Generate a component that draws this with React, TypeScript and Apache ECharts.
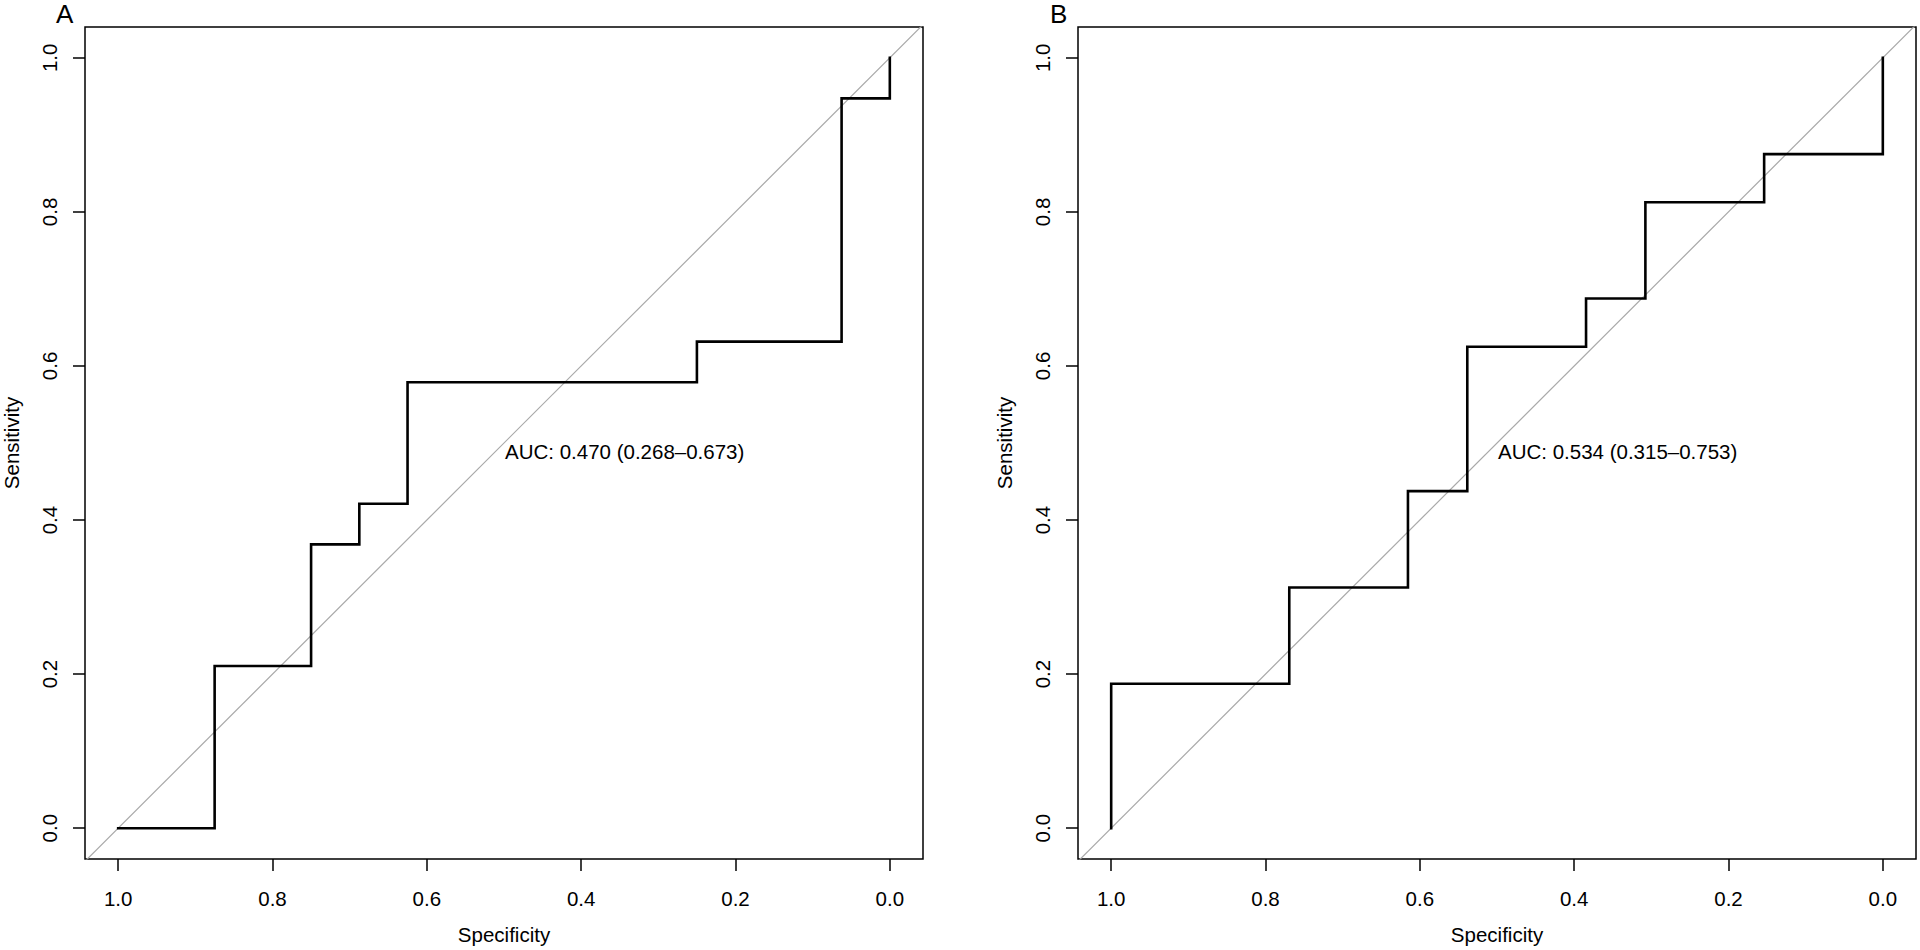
import React, { useEffect, useRef } from "react";
import * as echarts from "echarts";

// Panel A ROC corner points (specificity, sensitivity)
const specA = [1, 0.875, 0.875, 0.75, 0.75, 0.6875, 0.6875, 0.625, 0.625, 0.25, 0.25, 0.0625, 0.0625, 0, 0];
const sensA = [0, 0, 0.2105, 0.2105, 0.3684, 0.3684, 0.4211, 0.4211, 0.5789, 0.5789, 0.6316, 0.6316, 0.9474, 0.9474, 1];

// Panel B ROC corner points
const specB = [1, 1, 0.7692, 0.7692, 0.6154, 0.6154, 0.5385, 0.5385, 0.3846, 0.3846, 0.3077, 0.3077, 0.1538, 0.1538, 0, 0];
const sensB = [0, 0.1875, 0.1875, 0.3125, 0.3125, 0.4375, 0.4375, 0.625, 0.625, 0.6875, 0.6875, 0.8125, 0.8125, 0.875, 0.875, 1];

const tickValues = [0, 0.2, 0.4, 0.6, 0.8, 1.0];
const panelLabels = ["A", "B"];
const aucTexts = ["AUC: 0.470 (0.268\u20130.673)", "AUC: 0.534 (0.315\u20130.753)"];
const xName = "Specificity";
const yName = "Sensitivity";

const FONT = "'Liberation Sans', Arial, Helvetica, sans-serif";
const FS = 20.5;

export default function App() {
  const ref = useRef<HTMLDivElement>(null);
  useEffect(() => {
    if (!ref.current) return;
    const chart = echarts.init(ref.current, undefined, { renderer: "svg" });
    const gridLefts = [85, 1078];
    const grids = gridLefts.map((l) => ({
      left: l,
      top: 27,
      width: 838,
      height: 833,
      show: true,
      borderColor: "#000",
      borderWidth: 1.5,
      backgroundColor: "transparent",
    }));
    const xAxes = [0, 1].map((i) => ({
      type: "value",
      gridIndex: i,
      min: -0.043,
      max: 1.043,
      inverse: true,
      name: xName,
      nameLocation: "middle",
      nameGap: 65,
      nameTextStyle: { fontSize: FS, color: "#000", fontFamily: FONT },
      axisLine: { show: false, onZero: false },
      axisTick: { show: true, length: 12, lineStyle: { color: "#000", width: 1.5 }, customValues: tickValues },
      axisLabel: {
        customValues: tickValues,
        formatter: (v: number) => v.toFixed(1),
        fontSize: FS,
        color: "#000",
        fontFamily: FONT,
        margin: 29,
      },
      splitLine: { show: false },
    }));
    const yAxes = [0, 1].map((i) => ({
      type: "value",
      gridIndex: i,
      min: -0.04,
      max: 1.04,
      name: yName,
      nameLocation: "middle",
      nameGap: 63,
      nameTextStyle: { fontSize: FS, color: "#000", fontFamily: FONT },
      axisLine: { show: false, onZero: false },
      axisTick: { show: true, length: 12, lineStyle: { color: "#000", width: 1.5 }, customValues: tickValues },
      axisLabel: {
        customValues: tickValues,
        formatter: (v: number) => v.toFixed(1),
        fontSize: FS,
        color: "#000",
        fontFamily: FONT,
        rotate: 90,
        margin: 25,
      },
      splitLine: { show: false },
    }));
    const rocs = [
      specA.map((s, k) => [s, sensA[k]]),
      specB.map((s, k) => [s, sensB[k]]),
    ];
    const series: any[] = [];
    [0, 1].forEach((i) => {
      series.push({
        type: "line",
        xAxisIndex: i,
        yAxisIndex: i,
        data: [
          [1.043, -0.043],
          [-0.043, 1.043],
        ],
        symbol: "none",
        clip: true,
        lineStyle: { color: "#a9a9a9", width: 1.2 },
        silent: true,
        z: 1,
      });
      series.push({
        type: "line",
        xAxisIndex: i,
        yAxisIndex: i,
        data: rocs[i],
        symbol: "none",
        clip: false,
        lineStyle: { color: "#000", width: 2.6, join: "miter", cap: "square" },
        silent: true,
        z: 2,
      });
    });
    const graphic: any[] = [];
    const labelLefts = [56, 1050];
    const aucLefts = [505, 1498];
    [0, 1].forEach((i) => {
      graphic.push({
        type: "text",
        left: labelLefts[i],
        top: 1,
        style: { text: panelLabels[i], fontSize: 26, fill: "#000", fontFamily: FONT },
      });
      graphic.push({
        type: "text",
        left: aucLefts[i],
        top: 441,
        style: { text: aucTexts[i], fontSize: FS, fill: "#000", fontFamily: FONT },
      });
    });
    chart.setOption({
      animation: false,
      backgroundColor: "#fff",
      textStyle: { fontFamily: FONT },
      grid: grids,
      xAxis: xAxes,
      yAxis: yAxes,
      series,
      graphic,
    });
    return () => chart.dispose();
  }, []);
  return (
    <div
      ref={ref}
      style={{ position: "absolute", left: 0, top: 0, width: 1920, height: 950 }}
    />
  );
}
